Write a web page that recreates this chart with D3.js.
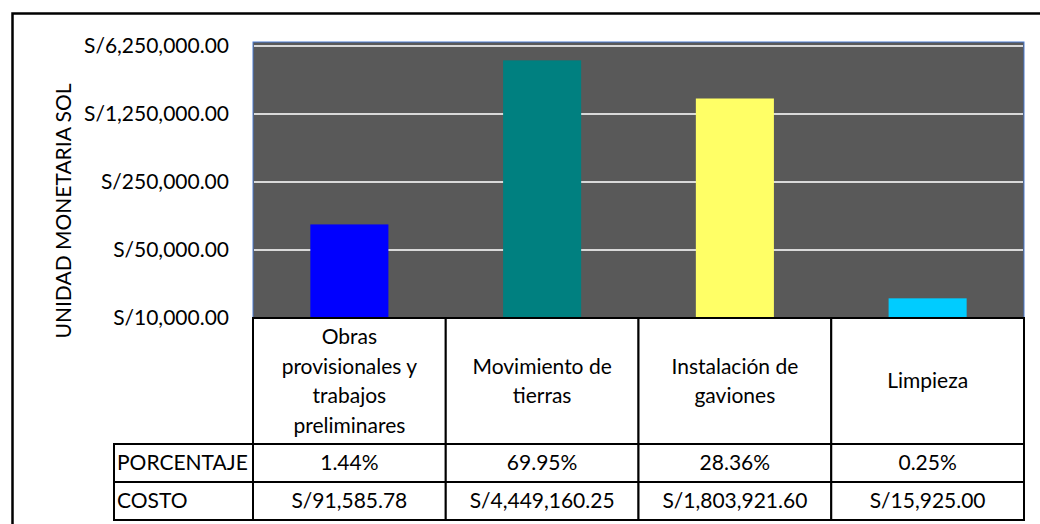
<!DOCTYPE html>
<html>
<head>
<meta charset="utf-8">
<script src="https://cdn.jsdelivr.net/npm/d3@7"></script>
<style>
  body { margin: 0; background: #ffffff; }
  svg { display: block; font-family: Lato, "Open Sans", sans-serif; }
</style>
</head>
<body>
<svg id="chart"></svg>
<script>
let outerWidth = 1040;
let outerHeight = 524;
let plot = { left: 253, right: 1024, top: 42, bottom: 318 };
let table = { labelLeft: 114, headBottom: 444, rowH: 38 };
let fontSize = '21px';

let categories = ['Obras provisionales y trabajos preliminares', 'Movimiento de tierras', 'Instalación de gaviones', 'Limpieza'];
let categoryLines = [
  ['Obras', 'provisionales y', 'trabajos', 'preliminares'],
  ['Movimiento de', 'tierras'],
  ['Instalación de', 'gaviones'],
  ['Limpieza']
];
let costs = [91585.78, 4449160.25, 1803921.60, 15925.00];
let costLabels = ['S/91,585.78', 'S/4,449,160.25', 'S/1,803,921.60', 'S/15,925.00'];
let percents = ['1.44%', '69.95%', '28.36%', '0.25%'];
let barColors = ['#0000ff', '#008080', '#ffff66', '#00ccff'];
let yTicks = [10000, 50000, 250000, 1250000, 6250000];
let yTickLabels = ['S/10,000.00', 'S/50,000.00', 'S/250,000.00', 'S/1,250,000.00', 'S/6,250,000.00'];
let rowNames = ['PORCENTAJE', 'COSTO'];

let svg = d3.select('#chart')
  .attr('width', outerWidth)
  .attr('height', outerHeight);

// outer frame (runs off the right and bottom)
svg.append('rect')
  .attr('x', 12.5).attr('y', 13.5)
  .attr('width', 1060).attr('height', 540)
  .attr('fill', 'none')
  .attr('stroke', '#000')
  .attr('stroke-width', 2.5);

let yScale = d3.scaleLog()
  .base(5)
  .domain([10000, 6250000])
  .range([plot.bottom, 46]);

let colScale = d3.scaleBand()
  .domain(categories)
  .range([plot.left, plot.right]);

let barScale = d3.scaleBand()
  .domain(categories)
  .range([plot.left, plot.right])
  .paddingInner(0.595)
  .paddingOuter(0.2975);

// plot background
svg.append('rect')
  .attr('x', plot.left).attr('y', plot.top)
  .attr('width', plot.right - plot.left)
  .attr('height', plot.bottom - plot.top)
  .attr('fill', '#595959')
  .attr('stroke', '#4a7bd0')
  .attr('stroke-width', 1);

// gridlines
svg.append('g')
  .selectAll('line')
  .data(yTicks.slice(1))
  .enter()
  .append('line')
  .attr('x1', plot.left + 1)
  .attr('x2', plot.right - 1)
  .attr('y1', d => yScale(d))
  .attr('y2', d => yScale(d))
  .attr('stroke', '#d9d9d9')
  .attr('stroke-width', 2);

// y axis labels
let yAxis = d3.axisLeft(yScale)
  .tickValues(yTicks)
  .tickFormat((d, i) => yTickLabels[i])
  .tickSize(0)
  .tickPadding(24);

svg.append('g')
  .attr('transform', 'translate(' + plot.left + ',0)')
  .call(yAxis)
  .call(g => g.select('.domain').remove())
  .selectAll('text')
  .style('font-size', fontSize)
  .style('font-family', 'Lato, sans-serif')
  .attr('fill', '#000');

// bars
svg.append('g')
  .selectAll('rect')
  .data(costs)
  .enter()
  .append('rect')
  .attr('x', (d, i) => barScale(categories[i]))
  .attr('y', d => yScale(d))
  .attr('width', barScale.bandwidth())
  .attr('height', d => plot.bottom - yScale(d))
  .attr('fill', (d, i) => barColors[i]);

// y title
svg.append('text')
  .attr('transform', 'translate(71,211) rotate(-90)')
  .attr('text-anchor', 'middle')
  .style('font-size', fontSize)
  .text('UNIDAD MONETARIA SOL');

// data table
let tbl = svg.append('g');
let rowTop = [table.headBottom, table.headBottom + table.rowH];

// header cells
tbl.selectAll('rect.head')
  .data(categories)
  .enter()
  .append('rect')
  .attr('class', 'head')
  .attr('x', d => colScale(d))
  .attr('y', plot.bottom)
  .attr('width', colScale.bandwidth())
  .attr('height', table.headBottom - plot.bottom)
  .attr('fill', '#fff')
  .attr('stroke', '#000')
  .attr('stroke-width', 2);

// row cells
rowNames.forEach((name, r) => {
  tbl.append('rect')
    .attr('x', table.labelLeft)
    .attr('y', rowTop[r])
    .attr('width', plot.left - table.labelLeft)
    .attr('height', table.rowH)
    .attr('fill', '#fff')
    .attr('stroke', '#000')
    .attr('stroke-width', 2);
  tbl.append('text')
    .attr('x', table.labelLeft + 3)
    .attr('y', rowTop[r] + table.rowH / 2)
    .attr('dy', '0.35em')
    .style('font-size', fontSize)
    .text(name);
  let vals = r === 0 ? percents : costLabels;
  categories.forEach((c, i) => {
    tbl.append('rect')
      .attr('x', colScale(c))
      .attr('y', rowTop[r])
      .attr('width', colScale.bandwidth())
      .attr('height', table.rowH)
      .attr('fill', '#fff')
      .attr('stroke', '#000')
      .attr('stroke-width', 2);
    tbl.append('text')
      .attr('x', colScale(c) + colScale.bandwidth() / 2)
      .attr('y', rowTop[r] + table.rowH / 2)
      .attr('dy', '0.35em')
      .attr('text-anchor', 'middle')
      .style('font-size', fontSize)
      .text(vals[i]);
  });
});

// header text
let lineH = 29.5;
categoryLines.forEach((lines, i) => {
  let cx = colScale(categories[i]) + colScale.bandwidth() / 2;
  let cy = (plot.bottom + table.headBottom) / 2;
  let t = tbl.append('text')
    .attr('text-anchor', 'middle')
    .style('font-size', fontSize);
  lines.forEach((ln, k) => {
    t.append('tspan')
      .attr('x', cx)
      .attr('y', cy + (k - (lines.length - 1) / 2) * lineH)
      .attr('dy', '0.35em')
      .text(ln);
  });
});
</script>
</body>
</html>
